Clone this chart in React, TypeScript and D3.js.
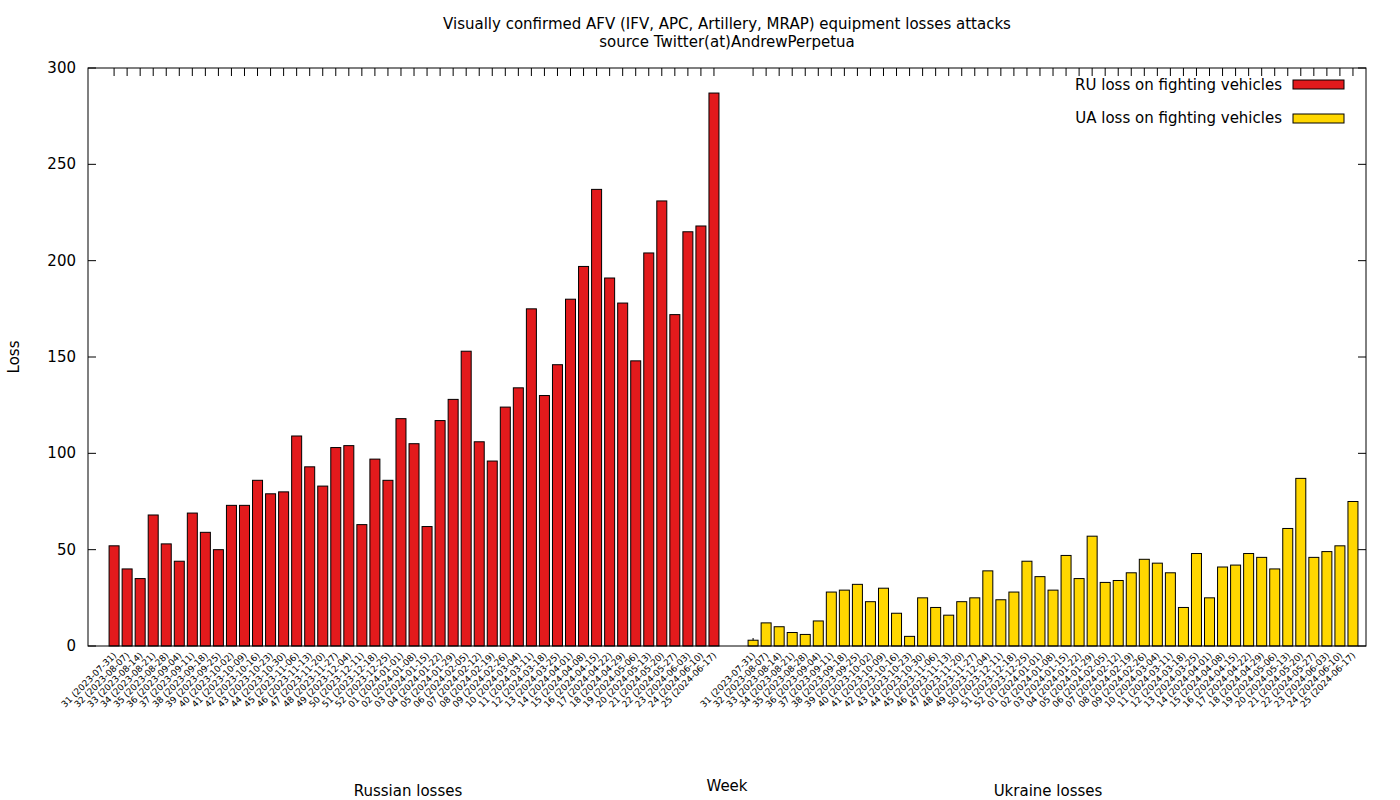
import React from "react"
import * as d3 from "d3"

const weeks = ["31 (2023-07-31)","32 (2023-08-07)","33 (2023-08-14)","34 (2023-08-21)","35 (2023-08-28)","36 (2023-09-04)","37 (2023-09-11)","38 (2023-09-18)","39 (2023-09-25)","40 (2023-10-02)","41 (2023-10-09)","42 (2023-10-16)","43 (2023-10-23)","44 (2023-10-30)","45 (2023-11-06)","46 (2023-11-13)","47 (2023-11-20)","48 (2023-11-27)","49 (2023-12-04)","50 (2023-12-11)","51 (2023-12-18)","52 (2023-12-25)","01 (2024-01-01)","02 (2024-01-08)","03 (2024-01-15)","04 (2024-01-22)","05 (2024-01-29)","06 (2024-02-05)","07 (2024-02-12)","08 (2024-02-19)","09 (2024-02-26)","10 (2024-03-04)","11 (2024-03-11)","12 (2024-03-18)","13 (2024-03-25)","14 (2024-04-01)","15 (2024-04-08)","16 (2024-04-15)","17 (2024-04-22)","18 (2024-04-29)","19 (2024-05-06)","20 (2024-05-13)","21 (2024-05-20)","22 (2024-05-27)","23 (2024-06-03)","24 (2024-06-10)","25 (2024-06-17)"]
const ruLoss = [52,40,35,68,53,44,69,59,50,73,73,86,79,80,109,93,83,103,104,63,97,86,118,105,62,117,128,153,106,96,124,134,175,130,146,180,197,237,191,178,148,204,231,172,215,218,287]
const uaLoss = [3,12,10,7,6,13,28,29,32,23,30,17,5,25,20,16,23,25,39,24,28,44,36,29,47,35,57,33,34,38,45,43,38,20,48,25,41,42,48,46,40,61,87,46,49,52,75]
const yTicks = [0, 50, 100, 150, 200, 250, 300]

const L = 88, R = 1366, T = 68, B = 646
const font = "DejaVu Sans, sans-serif"

export default function App() {
  const x = d3.scaleLinear().domain([0, 98]).range([L, R])
  const y = d3.scaleLinear().domain([0, 300]).range([B, T])
  const bw = 10
  const series = [
    { vals: ruLoss, off: 2, color: "#e31a1c" },
    { vals: uaLoss, off: 51, color: "#ffd700" },
  ]
  return (
    <svg width={1400} height={800} style={{ position: "absolute", left: 0, top: 0, background: "#fff" }} fontFamily={font}>
      <text x={727} y={29} textAnchor="middle" fontSize={15}>Visually confirmed AFV (IFV, APC, Artillery, MRAP) equipment losses attacks</text>
      <text x={727} y={47} textAnchor="middle" fontSize={15}>source Twitter(at)AndrewPerpetua</text>
      {yTicks.map(t => (
        <g key={t}>
          <line x1={L} x2={L + 8} y1={y(t)} y2={y(t)} stroke="#000" />
          <line x1={R} x2={R - 8} y1={y(t)} y2={y(t)} stroke="#000" />
          <text x={L - 12} y={y(t) + 5} textAnchor="end" fontSize={15}>{t}</text>
        </g>
      ))}
      <text transform={`translate(19,${(T + B) / 2}) rotate(-90)`} textAnchor="middle" fontSize={15}>Loss</text>
      {series.map((s, si) => s.vals.map((v, i) => {
        const cx = x(i + s.off)
        return (
          <g key={si + "-" + i}>
            <line x1={cx} x2={cx} y1={T} y2={T + 8} stroke="#000" />
            <line x1={cx} x2={cx} y1={B} y2={B - 8} stroke="#000" />
            <rect x={cx - bw / 2} y={y(v)} width={bw} height={B - y(v)} fill={s.color} stroke="#000" strokeWidth={1} />
            <text transform={`translate(${cx + 3},${B + 10}) rotate(-45)`} textAnchor="end" fontSize={9}>{weeks[i]}</text>
          </g>
        )
      }))}
      <rect x={L} y={T} width={R - L} height={B - T} fill="none" stroke="#000" />
      <text x={1282} y={90} textAnchor="end" fontSize={15}>RU loss on fighting vehicles</text>
      <rect x={1293} y={80} width={51} height={9} fill="#e31a1c" stroke="#000" />
      <text x={1282} y={123} textAnchor="end" fontSize={15}>UA loss on fighting vehicles</text>
      <rect x={1293} y={114} width={51} height={9} fill="#ffd700" stroke="#000" />
      <text x={408} y={796} textAnchor="middle" fontSize={15}>Russian losses</text>
      <text x={727} y={791} textAnchor="middle" fontSize={15}>Week</text>
      <text x={1048} y={796} textAnchor="middle" fontSize={15}>Ukraine losses</text>
    </svg>
  )
}
